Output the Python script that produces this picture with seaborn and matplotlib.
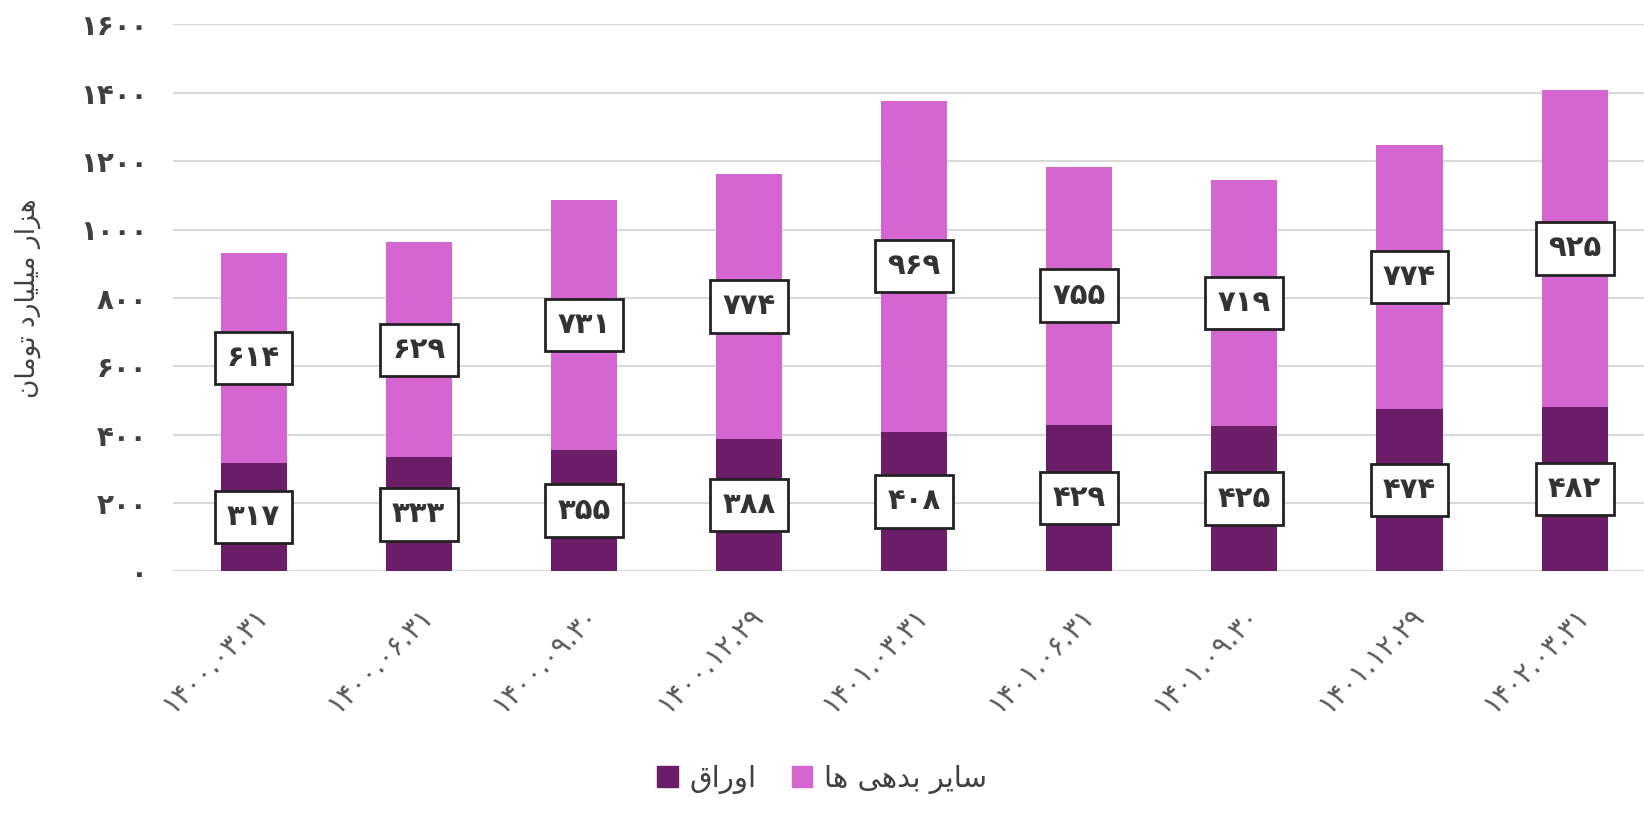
import matplotlib
matplotlib.use('Agg')
import matplotlib.pyplot as plt
import pandas as pd
import seaborn as sns
from matplotlib.patches import Patch

# data
dates = ['1400.03.31', '1400.06.31', '1400.09.30', '1400.12.29', '1401.03.31',
         '1401.06.31', '1401.09.30', '1401.12.29', '1402.03.31']
awragh = [317, 333, 355, 388, 408, 429, 425, 474, 482]        # اوراق
other_debts = [614, 629, 731, 774, 969, 755, 719, 774, 925]   # سایر بدهی ها

# persian text, pre-shaped (presentation forms, visual order)
lbl_awragh = '\uFED5\uFE8D\uFEAD\uFEED\uFE8D'                       # اوراق
lbl_other = '\uFE8E\uFEEB \uFEF0\uFEEB\uFEAA\uFE91 \uFEAE\uFEF3\uFE8E\uFEB3'  # سایر بدهی ها
lbl_ylabel = ('\uFEE5\uFE8E\uFEE3\uFEEE\uFE97 '
              '\uFEA9\uFEAD\uFE8E\uFEF4\uFEE0\uFEF4\uFEE3 '
              '\uFEAD\uFE8D\uFEB0\uFEEB')                           # هزار میلیارد تومان

fa_digits = str.maketrans('0123456789', '۰۱۲۳۴۵۶۷۸۹')
def fa(x):
    return str(x).translate(fa_digits)

col_dark = '#6B1E67'
col_light = '#D465D1'

sns.set_style('white')
plt.rcParams['font.family'] = ['DejaVu Sans']

df = pd.DataFrame({'date': dates, 'awragh': awragh, 'other': other_debts})
df['total'] = df['awragh'] + df['other']

fig = plt.figure(figsize=(16.44, 8.16), dpi=100)
ax = fig.add_axes([0.105, 0.30, 0.895, 0.67])

# stacked bars: draw total first then bottom part over it
sns.barplot(data=df, x='date', y='total', color=col_light, width=0.4, saturation=1,
            linewidth=0, ax=ax)
sns.barplot(data=df, x='date', y='awragh', color=col_dark, width=0.4, saturation=1,
            linewidth=0, ax=ax)

box = dict(boxstyle='square,pad=0.42', fc='white', ec='#222222', lw=2)
for i, row in df.iterrows():
    ax.text(i, row.awragh / 2, fa(row.awragh), ha='center', va='center',
            fontsize=21, fontweight='bold', color='#333333', bbox=box)
    ax.text(i, row.awragh + row.other / 2, fa(row.other), ha='center', va='center',
            fontsize=21, fontweight='bold', color='#333333', bbox=box)

ax.set_ylim(0, 1600)
ax.set_xlim(-0.49, 8.42)
ax.set_yticks(range(0, 1601, 200))
ax.set_yticklabels([fa(v) for v in range(0, 1601, 200)], fontsize=20,
                   fontweight='bold', color='#404040')
ax.set_xticks(range(len(dates)))
ax.set_xticklabels([fa(d) for d in dates], rotation=45, ha='right',
                   rotation_mode='anchor', fontsize=20, color='#595959')
ax.tick_params(axis='x', pad=22, length=0)
ax.tick_params(axis='y', pad=18, length=0)
ax.yaxis.grid(True, color='#D9D9D9', lw=1.5)
ax.set_axisbelow(True)
ax.set_xlabel('')
ax.set_ylabel(lbl_ylabel, fontsize=19, color='#404040', labelpad=28)
sns.despine(ax=ax, left=True, bottom=True)

handles = [Patch(color=col_dark, label=lbl_awragh), Patch(color=col_light, label=lbl_other)]
fig.legend(handles=handles, loc='lower center', bbox_to_anchor=(0.5, -0.005), ncol=2,
           frameon=False, fontsize=21, handlelength=0.7, handleheight=0.7,
           handletextpad=0.4, columnspacing=1.2, labelcolor='#404040')

fig.savefig('out.png', dpi=100)
